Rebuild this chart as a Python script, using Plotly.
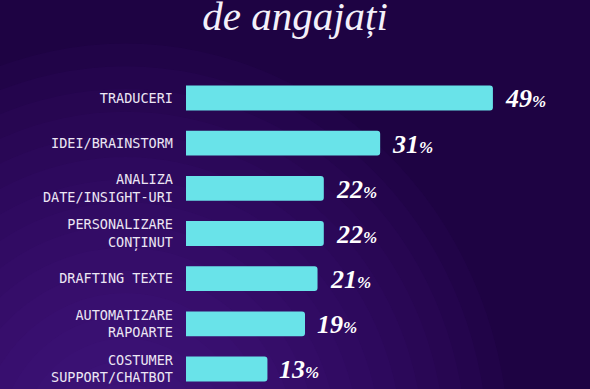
import plotly.graph_objects as go

categories = ["TRADUCERI", "IDEI/BRAINSTORM", "ANALIZA<br>DATE/INSIGHT-URI",
              "PERSONALIZARE<br>CONȚINUT", "DRAFTING TEXTE",
              "AUTOMATIZARE<br>RAPOARTE", "COSTUMER<br>SUPPORT/CHATBOT"]
values = [49, 31, 22, 22, 21, 19, 13]
title_text = "de angajați"

BAR = "#69E3E9"
fig = go.Figure()
fig.add_trace(go.Bar(
    x=values, y=categories, orientation="h",
    marker=dict(color=BAR, line=dict(width=0)),
    width=0.55, hoverinfo="skip",
))

for v, c in zip(values, categories):
    fig.add_annotation(
        x=v, y=c, xref="x", yref="y", xanchor="left", yanchor="middle",
        xshift=10, yshift=-1, showarrow=False,
        text=f"{v}<span style='font-size:17px'>%</span>",
        font=dict(family="Liberation Serif", size=26, color="#FFFFFF", weight="bold", style="italic"),
    )

# background glow (style only)
shapes = []
n = 18
for i in range(n):
    f = 1 - i / n
    shapes.append(dict(
        type="circle", xref="paper", yref="paper", layer="below",
        x0=-0.15 - 0.95 * f, x1=-0.15 + 0.95 * f,
        y0=-0.2 - 1.3 * f, y1=-0.2 + 1.3 * f,
        fillcolor="#5a24a6", opacity=0.055, line=dict(width=0),
    ))

fig.update_layout(
    width=590, height=389,
    margin=dict(l=186, r=0, t=75, b=0, pad=0),
    paper_bgcolor="#1E0343", plot_bgcolor="rgba(0,0,0,0)",
    showlegend=False, barcornerradius=3,
    shapes=shapes,
    title=dict(text=title_text, x=0.5, xanchor="center", xref="container",
               y=1 - 15.5 / 389, yanchor="middle", yref="container",
               font=dict(family="Liberation Serif", size=41, color="#F4F0FA", style="italic")),
    xaxis=dict(range=[0, 64.5], visible=False, fixedrange=True),
    yaxis=dict(type="category", range=[6.443, -0.509], showgrid=False, zeroline=False,
               showline=False, ticks="", ticklabelstandoff=12, fixedrange=True,
               tickfont=dict(family="DejaVu Sans Mono", size=13.5, color="#ECE6F4")),
)
fig.update_yaxes(automargin=False)
fig.write_html("out.html", config={"displayModeBar": False},
               post_script="document.body.style.margin='0';document.body.style.overflow='hidden';")
